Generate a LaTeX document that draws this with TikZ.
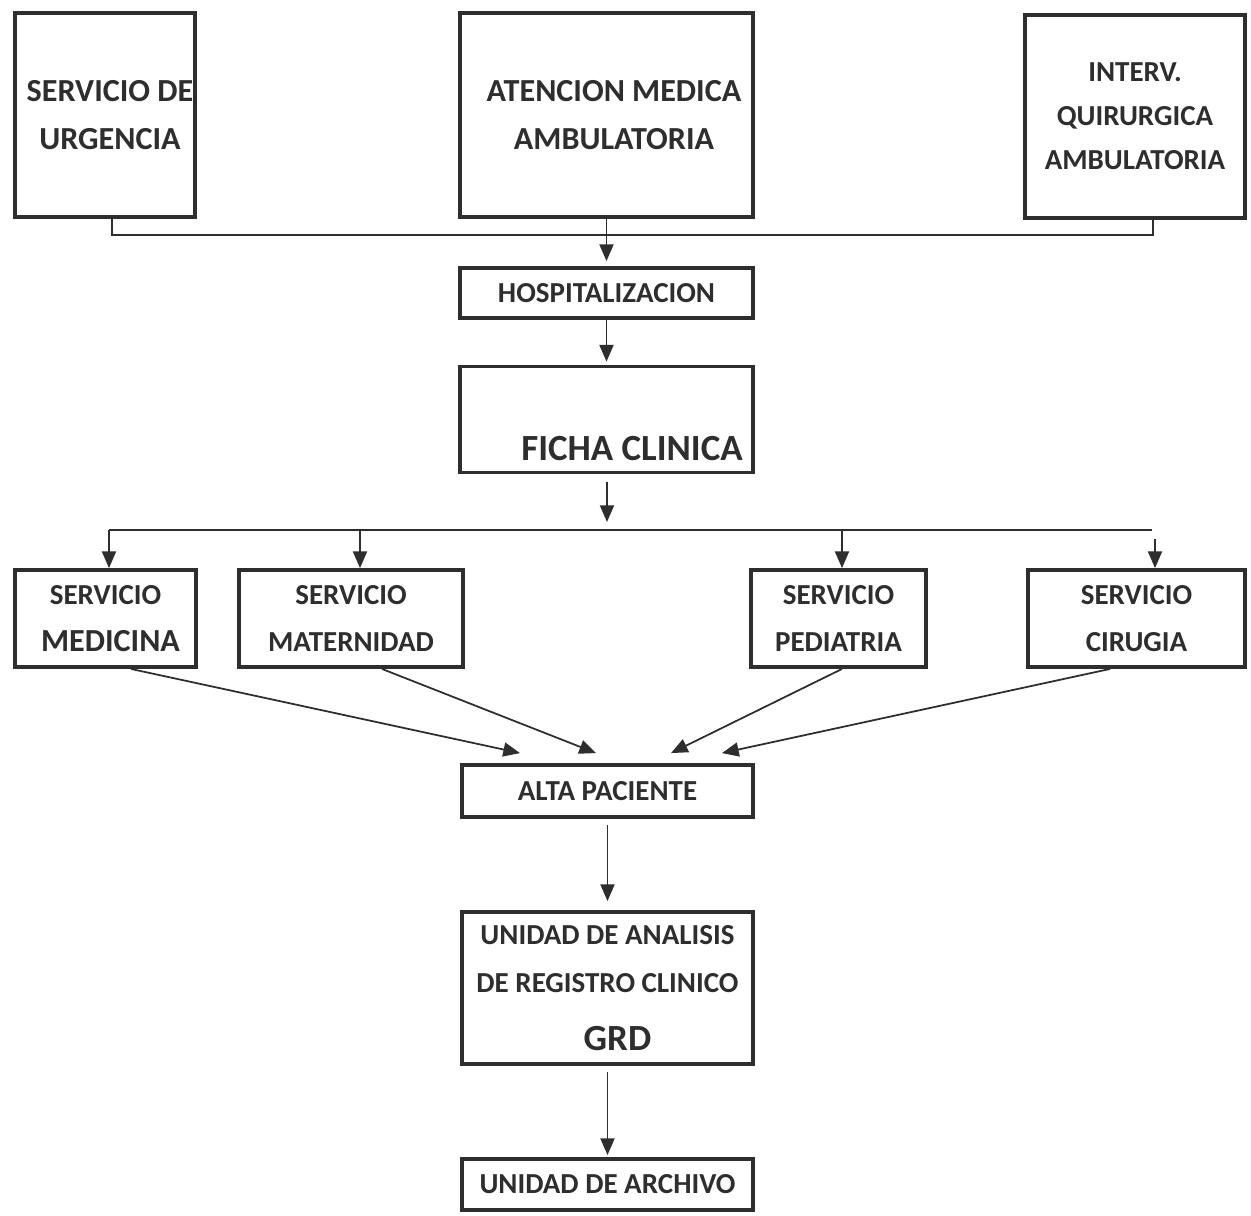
\documentclass[tikz,border=0pt]{standalone}
\usepackage{fontspec}
\setmainfont{Carlito}
\usetikzlibrary{arrows.meta,positioning}
\definecolor{ink}{HTML}{2E2E2E}
\newcommand{\scaler}{0.02}

\begin{document}
\begin{tikzpicture}[x=\scaler cm, y=-\scaler cm,
  box/.style={draw=ink, line width=2.2pt, inner sep=0pt, align=center, text=ink,
    font=\fontsize{16.5}{27}\selectfont\bfseries},
  wide/.style={font=\fontsize{18.3}{27}\selectfont\bfseries},
  bigtext/.style={text=ink, inner sep=0pt, font=\fontsize{21}{25}\selectfont\bfseries},
  link/.style={draw=ink, line width=1pt},
  arr/.style={link, -{Triangle[width=8pt,length=9.5pt]}}]
\fill[white] (0,0) rectangle (1251,1215);
\useasboundingbox (0,0) rectangle (1251,1215);

\node[box, wide, minimum width=180cm*\scaler, minimum height=204cm*\scaler] (urg) at (105,115) {\hspace*{0.2cm}SERVICIO DE\\\hspace*{0.2cm}URGENCIA};
\node[box, wide, minimum width=293cm*\scaler, minimum height=204cm*\scaler] (atn) at (606.5,115) {\hspace*{0.3cm}ATENCION MEDICA\\\hspace*{0.3cm}AMBULATORIA};
\node[box, minimum width=220cm*\scaler, minimum height=203cm*\scaler,
  font=\fontsize{16.5}{25}\selectfont\bfseries] (intv) at (1135,116.5) {INTERV.\\QUIRURGICA\\AMBULATORIA};

\node[box, minimum width=293cm*\scaler, minimum height=50cm*\scaler] (hosp) at (606.5,293) {HOSPITALIZACION};
\node[box, minimum width=293cm*\scaler, minimum height=106cm*\scaler] (ficha) at (606.5,419.5) {};
\node[bigtext] (fichatxt) at (632,449) {FICHA CLINICA};

\node[box, minimum width=181cm*\scaler, minimum height=97cm*\scaler] (med) at (105.5,618.5) {SERVICIO\\{\fontsize{18.3}{27}\selectfont\hspace*{0.2cm}MEDICINA}};
\node[box, minimum width=224cm*\scaler, minimum height=97cm*\scaler] (mat) at (351,618.5) {SERVICIO\\MATERNIDAD};
\node[box, minimum width=175cm*\scaler, minimum height=97cm*\scaler] (ped) at (838.5,618.5) {SERVICIO\\PEDIATRIA};
\node[box, minimum width=217cm*\scaler, minimum height=97cm*\scaler] (cir) at (1136.5,618.5) {SERVICIO\\CIRUGIA};

\node[box, minimum width=291cm*\scaler, minimum height=52cm*\scaler] (alta) at (607.5,791) {ALTA PACIENTE};
\node[box, minimum width=291cm*\scaler, minimum height=152cm*\scaler] (reg) at (607.5,988)
  {UNIDAD DE ANALISIS\\DE REGISTRO CLINICO\\[6pt]{\fontsize{21}{25}\selectfont\hspace*{0.4cm}GRD}};
\node[box, minimum width=291cm*\scaler, minimum height=51cm*\scaler] (arch) at (607.5,1184.5) {UNIDAD DE ARCHIVO};

\coordinate (jtop) at (607,235);
\coordinate (jbot) at (607,530);
\coordinate (jl) at (109,530);
\coordinate (jr) at (1152,530);
\coordinate (dmed) at ([shift={(3.5,0)}]med.north);
\coordinate (dmat) at ([shift={(9,0)}]mat.north);
\coordinate (dped) at ([shift={(3.5,0)}]ped.north);
\coordinate (dcir) at ([shift={(18.5,0)}]cir.north);

\draw[link] ([shift={(7,0)}]urg.south) |- (jtop) -| ([shift={(18,0)}]intv.south);
\draw[arr, shorten >=5cm*\scaler] (atn) -- (hosp);
\draw[arr, shorten >=3cm*\scaler] (hosp) -- (ficha);
\draw[arr, shorten <=8cm*\scaler, shorten >=8cm*\scaler] (ficha.south -| jbot) -- (jbot);

\draw[link] (jl) -- (jr);
\draw[arr] (dmed |- jbot) -- (dmed);
\draw[arr] (dmat |- jbot) -- (dmat);
\draw[arr] (dped |- jbot) -- (dped);
\draw[arr] ([shift={(0,9)}]dcir |- jbot) -- (dcir);

\draw[arr] ([shift={(25.5,0)}]med.south) -- ([shift={(-87.5,-10)}]alta.north);
\draw[arr] ([shift={(31,0)}]mat.south) -- ([shift={(-11.5,-10)}]alta.north);
\draw[arr] ([shift={(3.5,0)}]ped.south) -- ([shift={(63.5,-10)}]alta.north);
\draw[arr] ([shift={(-26.5,0)}]cir.south) -- ([shift={(114.5,-10)}]alta.north);

\draw[arr, shorten <=6cm*\scaler, shorten >=9cm*\scaler] (alta) -- (reg);
\draw[arr, shorten <=6cm*\scaler, shorten >=2cm*\scaler] (reg) -- (arch);

\end{tikzpicture}
\end{document}
